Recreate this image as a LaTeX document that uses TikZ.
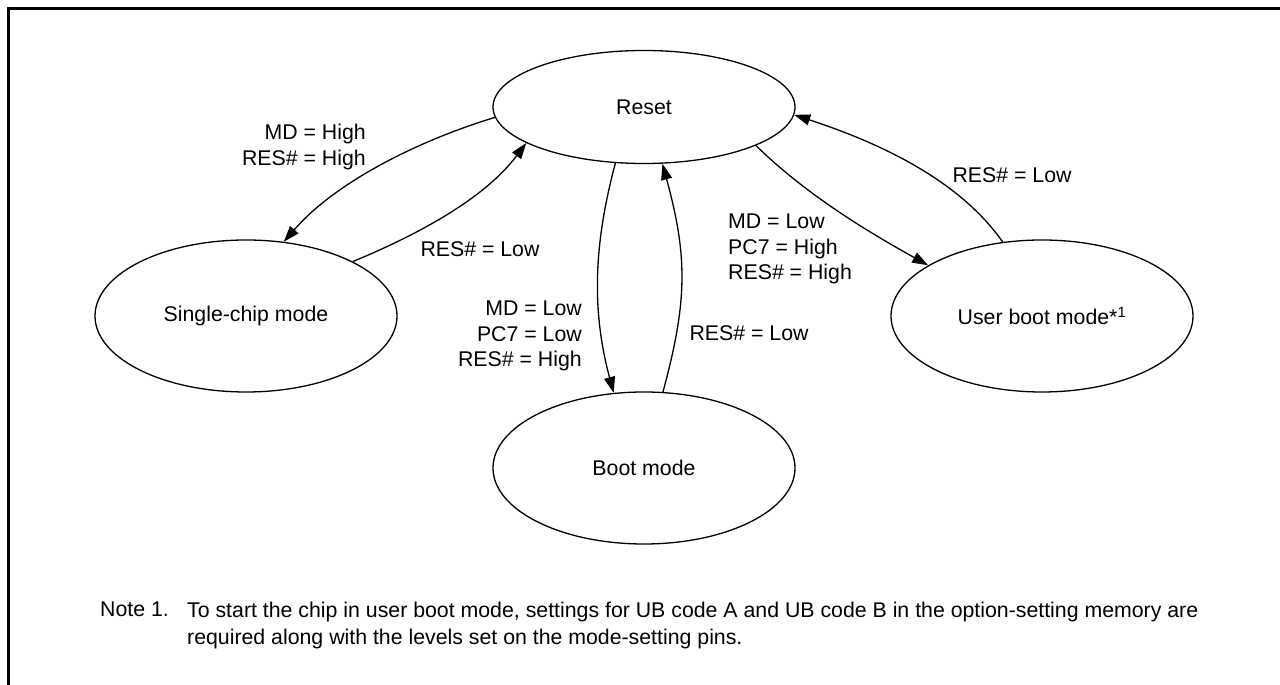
\documentclass[tikz,border=0pt]{standalone}
\usepackage{fontspec}
\setmainfont{Liberation Sans}
\usetikzlibrary{arrows.meta,shapes.geometric}

\begin{document}
\begin{tikzpicture}[>={Triangle[length=16pt,width=11pt]}, x=1pt, y=1pt,
  state/.style={ellipse, draw, line width=1.3pt, minimum width=302pt, minimum height=152pt, inner sep=0pt, font=\fontsize{21.3}{25.5}\selectfont},
  lbl/.style={inner sep=0pt, font=\fontsize{21.3}{25.5}\selectfont},
  trans/.style={->, line width=1.3pt}]
  \useasboundingbox (0,0) rectangle (1280,685);
  \draw[line width=3pt] (8.5,0) -- (8.5,676.5) -- (1280,676.5);

  \node[state, minimum height=113pt] (reset) at (644,578) {Reset};
  \node[state] (single) at (246,369) {Single-chip mode};
  \node[state] (boot) at (644,217) {Boot mode};
  \node[state] (user) at (1042,369) {User boot mode*\textsuperscript{1}};

  \draw[trans] (reset.184) .. controls +(-76,-23) and +(52,60) .. (single.63);
  \draw[trans] (single.27) .. controls +(65,27) and +(-42,-56) .. (reset.197);
  \draw[trans] (reset.243) .. controls +(-22,-82) and +(-22,82) .. (boot.112);
  \draw[trans] (boot.76) .. controls +(25,92) and +(25,-92) .. (reset.288);
  \draw[trans] (reset.341) .. controls +(50,-49) and +(-61,34) .. (user.156);
  \draw[trans] (user.118) .. controls +(-46,66) and +(76,-25) .. (reset.357);

  \node[lbl, anchor=east, align=right] (hiSingle) at (366,538) {MD = High\\RES\# = High};
  \node[lbl] (lowSingle) at (480,436) {RES\# = Low};
  \node[lbl, anchor=east, align=right] (hiBoot) at (582,349) {MD = Low\\PC7 = Low\\RES\# = High};
  \node[lbl] (lowBoot) at (749,352) {RES\# = Low};
  \node[lbl, anchor=west, align=left] (hiUser) at (728,436) {MD = Low\\PC7 = High\\RES\# = High};
  \node[lbl] (lowUser) at (1012,510) {RES\# = Low};

  \node[lbl, anchor=north west] (noteNum) at (100,83.5) {Note 1.};
  \node[lbl, anchor=north west, align=left, font=\fontsize{21.3}{27}\selectfont] (noteText) at (187,83.5)
    {To start the chip in user boot mode, settings for UB code A and UB code B in the option-setting memory are\\
     required along with the levels set on the mode-setting pins.};
\end{tikzpicture}
\end{document}
